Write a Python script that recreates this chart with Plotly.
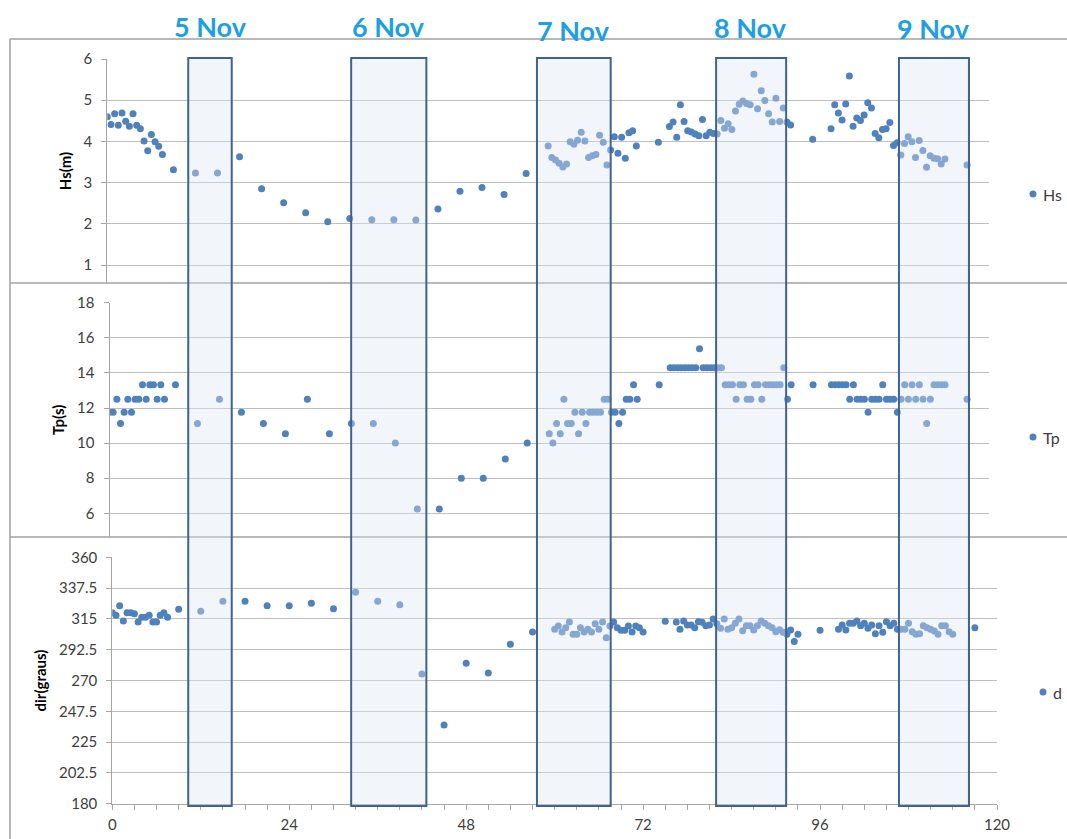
import plotly.graph_objects as go

# ---------------- data (hours since start) ----------------
hours = [0, 0.5, 1, 1.5, 2, 2.5, 3, 3.5, 4, 4.5, 5, 5.5, 6, 6.5, 7, 7.5,
         9, 12, 15, 18, 21, 24, 27, 30, 33, 36, 39, 42, 45, 48, 51, 54, 57,
         60, 60.5, 61, 61.5, 62, 62.5, 63, 63.5, 64, 64.5, 65, 65.5, 66, 66.5, 67, 67.5,
         68, 68.5, 69, 69.5, 70, 70.5, 71, 71.5, 72,
         75,
         76.5, 77, 77.5, 78, 78.5, 79, 79.5, 80, 80.5, 81, 81.5, 82, 82.5, 83, 83.5,
         84, 84.5, 85, 85.5, 86, 86.5, 87, 87.5, 88, 88.5, 89, 89.5, 90, 90.5, 91, 91.5,
         92, 92.5, 93,
         96,
         98.5, 99, 99.5, 100, 100.5, 101, 101.5, 102, 102.5, 103, 103.5, 104, 104.5, 105,
         105.5, 106, 106.5, 107, 107.5, 108, 108.5, 109, 109.5, 110, 110.5, 111, 111.5,
         112, 112.5, 113, 113.5, 114,
         117]

hs = [4.60, 4.41, 4.67, 4.39, 4.69, 4.49, 4.37, 4.67, 4.39, 4.31, 4.01, 3.77, 4.17, 3.99, 3.88, 3.68,
      3.31, 3.23, 3.23, 3.63, 2.85, 2.51, 2.27, 2.05, 2.13, 2.10, 2.10, 2.09, 2.36, 2.79, 2.88, 2.71, 3.22,
      3.89, 3.61, 3.55, 3.47, 3.38, 3.45, 3.99, 3.93, 4.03, 4.22, 4.01, 3.61, 3.65, 3.68, 4.15, 3.98,
      3.43, 3.79, 4.11, 3.71, 4.10, 3.59, 4.21, 4.26, 3.89,
      3.98,
      4.36, 4.47, 4.10, 4.89, 4.48, 4.26, 4.23, 4.18, 4.14, 4.53, 4.14, 4.22, 4.19, 4.18, 4.51,
      4.32, 4.43, 4.29, 4.74, 4.90, 4.98, 4.92, 4.89, 5.63, 4.79, 5.23, 4.99, 4.67, 4.47, 5.05, 4.48,
      4.81, 4.47, 4.40,
      4.05,
      4.31, 4.89, 4.69, 4.52, 4.91, 5.59, 4.37, 4.57, 4.51, 4.64, 4.94, 4.81, 4.19, 4.09,
      4.29, 4.31, 4.46, 3.90, 3.97, 3.67, 3.95, 4.11, 3.99, 3.61, 4.02, 3.78, 3.37,
      3.65, 3.59, 3.58, 3.45, 3.57,
      3.43]

tp = [11.76, 11.76, 12.5, 11.11, 11.76, 12.5, 11.76, 12.5, 12.5, 13.33, 12.5, 13.33, 13.33, 12.5, 13.33, 12.5,
      13.33, 11.11, 12.5, 11.76, 11.11, 10.53, 12.5, 10.53, 11.11, 11.11, 10.0, 6.25, 6.25, 8.0, 8.0, 9.09, 10.0,
      10.53, 10.0, 11.11, 10.53, 12.5, 11.11, 11.11, 11.76, 10.53, 11.76, 11.11, 11.76, 11.76, 11.76, 11.76, 12.5,
      12.5, 11.76, 11.76, 11.11, 11.76, 12.5, 12.5, 13.33, 12.5,
      13.33,
      14.29, 14.29, 14.29, 14.29, 14.29, 14.29, 14.29, 14.29, 15.38, 14.29, 14.29, 14.29, 14.29, 14.29, 14.29,
      13.33, 13.33, 13.33, 12.5, 13.33, 13.33, 12.5, 12.5, 13.33, 13.33, 12.5, 13.33, 13.33, 13.33, 13.33, 13.33,
      14.29, 12.5, 13.33,
      13.33,
      13.33, 13.33, 13.33, 13.33, 13.33, 12.5, 13.33, 12.5, 12.5, 12.5, 11.76, 12.5, 12.5, 12.5,
      13.33, 12.5, 12.5, 12.5, 11.76, 12.5, 13.33, 12.5, 13.33, 12.5, 13.33, 12.5, 11.11,
      12.5, 13.33, 13.33, 13.33, 13.33,
      12.5]

dirg = [319.5, 317.6, 324.6, 313.5, 319.5, 319.5, 318.8, 312.7, 316.2, 316.2, 317.6, 312.7, 312.7, 317.6, 319.5, 316.2,
        322.0, 320.6, 327.9, 327.9, 324.6, 324.6, 326.4, 322.5, 334.4, 327.9, 325.4, 274.8, 237.5, 282.6, 275.5, 296.4, 305.4,
        307.4, 309.8, 305.4, 308.6, 312.7, 303.8, 303.8, 308.6, 305.4, 307.4, 305.4, 311.5, 307.4, 312.7, 301.3, 309.8,
        312.7, 308.6, 306.7, 306.7, 309.8, 305.4, 309.8, 308.6, 305.4,
        313.2,
        312.7, 307.4, 313.5, 310.5, 310.5, 308.6, 313.0, 312.5, 310.0, 310.5, 314.9, 311.5, 308.1, 314.9, 307.4,
        308.6, 311.8, 314.9, 306.4, 310.0, 310.0, 306.9, 310.0, 313.5, 311.8, 310.0, 308.6, 305.7, 307.1, 305.2, 303.8,
        306.9, 298.4, 303.8,
        306.7,
        307.4, 310.5, 306.9, 311.8, 311.8, 313.5, 310.0, 311.8, 308.1, 310.5, 304.2, 310.0, 305.2, 313.0,
        310.0, 311.8, 307.4, 307.4, 307.4, 311.8, 305.7, 303.8, 304.2, 310.0, 308.6, 307.4, 306.2,
        303.8, 310.0, 310.0, 305.7, 303.8,
        308.6]

series_names = ["Hs", "Tp", "d"]
day_labels = ["5 Nov", "6 Nov", "7 Nov", "8 Nov", "9 Nov"]
# highlighted windows (hours) for each day label
box_start = [10.3, 32.4, 57.6, 81.9, 106.7]
box_end = [16.2, 42.6, 67.6, 91.4, 116.2]

hs_ticks = [1, 2, 3, 4, 5, 6]
tp_ticks = [6, 8, 10, 12, 14, 16, 18]
dir_ticks = [180, 202.5, 225, 247.5, 270, 292.5, 315, 337.5, 360]
x_ticks = [0, 24, 48, 72, 96, 120]

# ---------------- figure ----------------
W, H = 1067, 839
BLUE = "#4F81BD"
GRID = "#BFBFBF"
AX = "#A6A6A6"
TXT = "#404040"
FONT = "Lato"


def px(x):
    return x / W


def py(y):
    return 1 - y / H


fig = go.Figure()
mk = dict(color=BLUE, size=7, line=dict(width=0))
for name, yv, xa, ya in zip(series_names, [hs, tp, dirg], ["x", "x2", "x3"], ["y", "y2", "y3"]):
    fig.add_trace(go.Scatter(x=hours, y=yv, mode="markers", marker=mk, name=name,
                             xaxis=xa, yaxis=ya, showlegend=False))

yax_common = dict(showgrid=True, gridcolor=GRID, gridwidth=1, showline=True, linecolor=AX,
                  linewidth=1, ticks="outside", ticklen=5, tickcolor=AX, zeroline=False,
                  tickfont=dict(family=FONT, size=15, color=TXT), automargin=False,
                  ticklabelstandoff=6)
title_font = dict(family=FONT, size=15, color="#000000", weight="bold")

hidden_x = dict(range=[0, 120], showgrid=False, showline=False, showticklabels=False,
                ticks="", zeroline=False, automargin=False)

fig.update_layout(
    width=W, height=H, margin=dict(l=0, r=0, t=0, b=0),
    paper_bgcolor="white", plot_bgcolor="rgba(0,0,0,0)",
    font=dict(family=FONT, color=TXT),
    showlegend=False,
    xaxis=dict(domain=[px(107.3), px(989)], anchor="y", **hidden_x),
    xaxis2=dict(domain=[px(109.5), px(989)], anchor="y2", **hidden_x),
    xaxis3=dict(domain=[px(112.3), px(997)], anchor="y3", range=[0, 120],
                tickvals=x_ticks, ticktext=[str(v) for v in x_ticks],
                showgrid=False, showline=True, linecolor=AX, linewidth=1,
                ticks="outside", ticklen=5, tickcolor=AX, zeroline=False,
                minor=dict(dtick=3, tick0=0, ticks="outside", ticklen=5, tickcolor=AX, showgrid=False),
                tickfont=dict(family=FONT, size=15, color=TXT), automargin=False,
                ticklabelstandoff=2),
    yaxis=dict(domain=[py(283), py(59)], anchor="x", range=[0.563, 6],
               tickvals=hs_ticks, ticktext=[str(v) for v in hs_ticks],
               title=dict(text="Hs(m)", font=title_font, standoff=8), **yax_common),
    yaxis2=dict(domain=[py(537), py(302.7)], anchor="x2", range=[4.65, 18],
                tickvals=tp_ticks, ticktext=[str(v) for v in tp_ticks],
                title=dict(text="Tp(s)", font=title_font, standoff=8), **yax_common),
    yaxis3=dict(domain=[py(803.7), py(557.3)], anchor="x3", range=[180, 360],
                tickvals=dir_ticks, ticktext=["%g" % v for v in dir_ticks],
                title=dict(text="dir(graus)", font=title_font, standoff=8), **yax_common),
)

shapes = []
# chart-area borders of the three stacked panels
BORDER = "#A0A0A0"
for yb in [39, 283, 537]:
    shapes.append(dict(type="line", xref="paper", yref="paper", x0=px(10), x1=px(1067),
                       y0=py(yb), y1=py(yb), line=dict(color=BORDER, width=1.5), layer="below"))
shapes.append(dict(type="line", xref="paper", yref="paper", x0=px(10), x1=px(10),
                   y0=py(39), y1=0, line=dict(color=BORDER, width=1.5), layer="below"))
# highlighted day windows spanning all panels
for a, b in zip(box_start, box_end):
    shapes.append(dict(type="rect", xref="x3", yref="paper", x0=a, x1=b,
                       y0=py(806), y1=py(58),
                       fillcolor="rgba(220,230,242,0.38)",
                       line=dict(color="#3F6391", width=2), layer="above"))

# per-panel legend keys (marker + series name)
leg_mx = [1033, 1033, 1043]
leg_y = [194, 437, 692]
r = 3.5
for name, mx, ly in zip(series_names, leg_mx, leg_y):
    shapes.append(dict(type="circle", xref="paper", yref="paper",
                       x0=px(mx - r), x1=px(mx + r), y0=py(ly + r), y1=py(ly - r),
                       fillcolor=BLUE, line=dict(width=0)))
    fig.add_annotation(text=name, xref="paper", yref="paper", x=px(mx + 8), y=py(ly),
                       xanchor="left", yanchor="middle", showarrow=False,
                       font=dict(family=FONT, size=16, color=TXT))
fig.update_layout(shapes=shapes)

label_x = [210, 388, 573, 750, 933]
label_y = [27, 27, 31, 28, 29]
for t, lx, ly in zip(day_labels, label_x, label_y):
    fig.add_annotation(text="<b>%s</b>" % t, xref="paper", yref="paper", x=px(lx), y=py(ly),
                       xanchor="center", yanchor="middle", showarrow=False,
                       font=dict(family=FONT, size=27, color="#1C9FE4"))

fig.write_html("out.html", config={"displayModeBar": False},
               post_script="document.body.style.margin='0px';document.body.style.overflow='hidden';")
